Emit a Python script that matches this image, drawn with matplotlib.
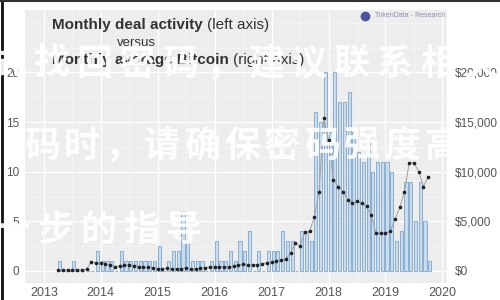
import numpy as np
import matplotlib.pyplot as plt
from matplotlib.ticker import FuncFormatter, MultipleLocator

plt.rcParams['font.family'] = ['Liberation Sans', 'DejaVu Sans']

# months since Jan 2013, Apr 2013 .. Oct 2019
month_idx = np.arange(3, 82)

deals = [1, 0, 0, 1, 0, 0, 0, 0, 2,                      # 2013 Apr-Dec
         1, 1, 1, 0, 2, 1, 1, 1, 1, 1, 1, 1,             # 2014
         2.5, 0, 1, 2, 2, 6, 3, 1, 1, 1, 0, 1,           # 2015
         3, 1, 1, 2, 1, 3, 2, 4, 0, 2, 0, 2,             # 2016
         2, 2, 4, 3, 3, 0, 4, 4, 3, 16, 15, 20,          # 2017
         14, 20, 17, 17, 18, 14, 12, 11, 13, 10, 11, 11, # 2018
         11, 10, 3, 4, 9, 9, 5, 9, 5, 1]                 # 2019 Jan-Oct

# monthly average bitcoin price, thousands of USD
btc = [0.13, 0.12, 0.11, 0.09, 0.11, 0.13, 0.16, 0.9, 0.85,
       0.85, 0.7, 0.6, 0.45, 0.5, 0.6, 0.6, 0.55, 0.45, 0.37, 0.37, 0.34,
       0.25, 0.24, 0.27, 0.23, 0.24, 0.24, 0.28, 0.25, 0.23, 0.27, 0.35, 0.42,
       0.41, 0.4, 0.41, 0.43, 0.46, 0.64, 0.66, 0.58, 0.61, 0.64, 0.72, 0.82,
       0.95, 1.0, 1.1, 1.2, 1.8, 2.8, 2.5, 3.9, 4.0, 5.4, 8.0, 15.4,
       13.2, 9.2, 8.5, 8.0, 7.2, 6.8, 7.0, 6.8, 6.5, 5.6, 3.8, 3.8,
       3.8, 4.0, 5.2, 6.4, 8.0, 10.9, 10.9, 10.0, 8.5, 9.5]

years = [2013, 2014, 2015, 2016, 2017, 2018, 2019, 2020]
left_ticks = [0, 5, 10, 15, 20]

overlay_lines = ['式找回密码，建议联系相关', '码时，请确保密码强度高，', '一步的指导']

x = 2013 + month_idx / 12.0

fig = plt.figure(figsize=(5, 3), dpi=100)
fig.patch.set_facecolor('white')
ax = fig.add_axes([0.05, 0.057, 0.844, 0.91])
ax.set_facecolor('#ededed')

ax.bar(x, deals, width=0.055, align='edge', color='#c9dcee',
       edgecolor='#7fa6cc', linewidth=0.6, zorder=2)

ax.set_xlim(2012.67, 2020.08)
ax.set_ylim(-1.2, 26.3)
ax.set_xticks(years)
ax.xaxis.set_minor_locator(MultipleLocator(0.5))
ax.set_yticks(left_ticks)
ax.yaxis.set_minor_locator(MultipleLocator(2.5))
ax.grid(which='major', color='white', linewidth=0.9, zorder=0)
ax.grid(which='minor', color='#f6f6f6', linewidth=0.5, zorder=0)
ax.set_axisbelow(True)
for s in ax.spines.values():
    s.set_visible(False)
ax.tick_params(axis='both', which='both', length=0, colors='#555555', labelsize=8.5)
ax.tick_params(axis='x', labelsize=9, pad=3)
ax.tick_params(axis='y', pad=4)

ax2 = ax.twinx()
ax2.plot(x, np.array(btc) * 1000, color='#a0a0a0', linewidth=0.7,
         marker='o', markersize=1.6, markerfacecolor='#222222',
         markeredgecolor='#222222', zorder=3)
ax2.set_ylim(-1200, 26300)
ax2.set_yticks([0, 5000, 10000, 15000, 20000])
ax2.yaxis.set_major_formatter(FuncFormatter(lambda v, p: '${:,.0f}'.format(v)))
for s in ax2.spines.values():
    s.set_visible(False)
ax2.tick_params(axis='y', length=0, colors='#555555', labelsize=8.5, pad=6)

# title block
t1 = ax2.text(0.064, 0.945, 'Monthly deal activity ', transform=ax.transAxes,
              ha='left', va='center', fontsize=11, fontweight='bold', color='#333333')
ax2.annotate('(left axis)', xy=(1, 0.5), xycoords=t1, ha='left', va='center',
             fontsize=11, color='#333333')
ax2.text(0.265, 0.879, 'versus', transform=ax.transAxes,
         ha='center', va='center', fontsize=9.5, color='#333333')
t3 = ax2.text(0.064, 0.815, 'Monthly average Bitcoin ', transform=ax.transAxes,
              ha='left', va='center', fontsize=11, fontweight='bold', color='#333333')
ax2.annotate('(right axis)', xy=(1, 0.5), xycoords=t3, ha='left', va='center',
             fontsize=11, color='#333333')

ax2.plot([0.805], [0.978], 'o', transform=ax.transAxes, markersize=6,
         color='#4a55a0', zorder=5)
ax2.text(0.83, 0.978, 'TokenData - Research', transform=ax.transAxes,
         ha='left', va='center', fontsize=5, color='#8a8fb0')

# overlay text, one glyph at a time (pixel positions)
cjk = ['Noto Sans CJK SC', 'DejaVu Sans']
starts = [(8, 43, 64), (42, 40, 146), (12, 43, 230)]
for line, (x0, step, yc) in zip(overlay_lines, starts):
    for i, ch in enumerate(line):
        fig.text((x0 + i * step) / 500, 1 - yc / 300, ch, fontsize=26,
                 color='white', alpha=0.92, fontweight='heavy', family=cjk,
                 ha='center', va='center', zorder=10)

# screen edge
fig.add_artist(plt.Line2D([0.003, 0.003], [0, 1], color='#111111', linewidth=2))
fig.add_artist(plt.Line2D([0, 1], [0.997, 0.997], color='#333333', linewidth=1.5))

fig.savefig('out.png', dpi=100)
